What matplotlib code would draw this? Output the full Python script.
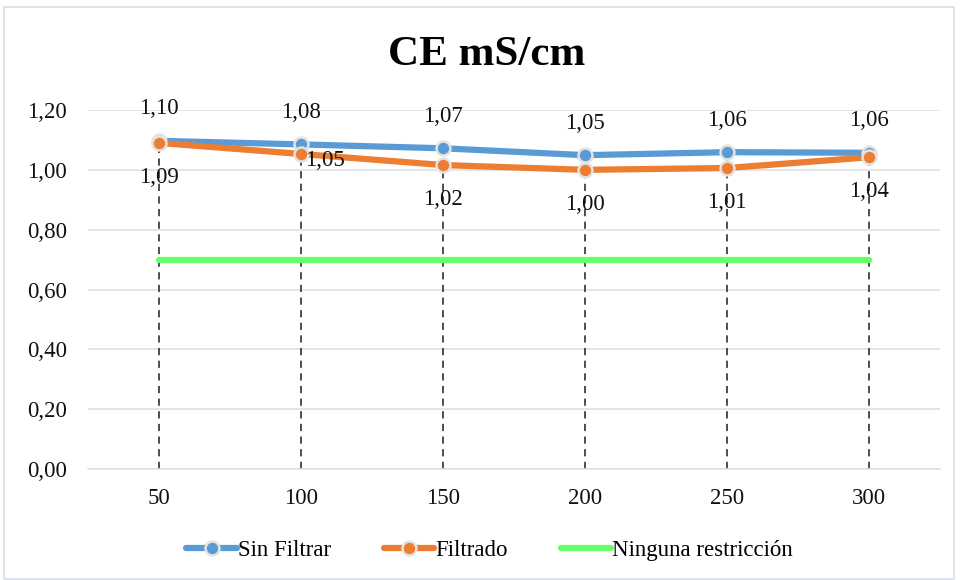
import matplotlib
matplotlib.use("Agg")
import matplotlib.pyplot as plt
from matplotlib.patches import Rectangle

categories = ["50", "100", "150", "200", "250", "300"]
sin_filtrar = [1.097, 1.085, 1.072, 1.049, 1.059, 1.057]
filtrado = [1.090, 1.053, 1.016, 1.000, 1.006, 1.042]
ninguna = [0.70, 0.70, 0.70, 0.70, 0.70, 0.70]
yticks = [0.0, 0.2, 0.4, 0.6, 0.8, 1.0, 1.2]

plt.rcParams['font.family'] = ['Liberation Serif', 'DejaVu Serif']

FS = 16.5
fig = plt.figure(figsize=(9.6, 5.8), dpi=100)
fig.patches.append(Rectangle((4/960, 0.002), 950/960, 1 - 7/580 - 0.002, transform=fig.transFigure,
                             fill=False, edgecolor='#D9DDE6', linewidth=1.2))
ax = fig.add_axes([88/960, 1 - 469/580, (940-88)/960, (469-110)/580])

x = list(range(len(categories)))
blue = '#5B9BD5'
orange = '#ED7D31'
green = '#66FF66'

# drop lines
for xi, a, b in zip(x, sin_filtrar, filtrado):
    ax.plot([xi, xi], [0, max(a, b)], linestyle=(0, (4, 3)), color='#404040', linewidth=1.3, zorder=2)

lg, = ax.plot(x, ninguna, color=green, linewidth=4.5, solid_capstyle='round', zorder=3, label='Ninguna restricción')
l1, = ax.plot(x, sin_filtrar, color=blue, linewidth=4.5, marker='o', markersize=10,
              markerfacecolor=blue, markeredgecolor='#E3E3E3', markeredgewidth=1.8,
              solid_capstyle='round', zorder=4, label='Sin Filtrar')
l2, = ax.plot(x, filtrado, color=orange, linewidth=4.5, marker='o', markersize=10,
              markerfacecolor=orange, markeredgecolor='#E3E3E3', markeredgewidth=1.8,
              solid_capstyle='round', zorder=5, label='Filtrado')

def fmt(v):
    return f"{v:.2f}".replace('.', ',')

for xi, v in zip(x, sin_filtrar):
    ax.annotate(fmt(v), (xi, v), xytext=(0, 23), textcoords='offset points',
                ha='center', va='center', fontsize=FS, color='#111111', zorder=6)
for xi, v in zip(x, filtrado):
    if xi == 1:
        ax.annotate(fmt(v), (xi, v), xytext=(3, -5), textcoords='offset points',
                    ha='left', va='center', fontsize=FS, color='#111111', zorder=6)
    else:
        ax.annotate(fmt(v), (xi, v), xytext=(0, -25), textcoords='offset points',
                    ha='center', va='center', fontsize=FS, color='#111111', zorder=6)

ax.set_xlim(-0.5, len(categories) - 0.5)
ax.set_ylim(0, 1.2)
ax.set_xticks(x)
ax.set_xticklabels(categories)
ax.set_yticks(yticks)
ax.set_yticklabels([fmt(t) for t in yticks])
ax.tick_params(axis='both', length=0, labelsize=FS, colors='#111111')
ax.tick_params(axis='x', pad=14)
ax.tick_params(axis='y', pad=15)
ax.grid(axis='y', color='#DDE1E8', linewidth=1.2)
ax.set_axisbelow(True)
for s in ['top', 'right', 'left']:
    ax.spines[s].set_visible(False)
ax.spines['bottom'].set_color('#DDE1E8')
ax.spines['bottom'].set_linewidth(1.2)

fig.text(487/960, 1 - 55/580, 'CE mS/cm', ha='center', va='center', fontsize=31, fontweight='bold')

fig.legend([l1, l2, lg], ['Sin Filtrar', 'Filtrado', 'Ninguna restricción'], loc='center',
           bbox_to_anchor=(0.51, 1 - 550/580), ncol=3, frameon=False, fontsize=FS,
           handlelength=2.2, handletextpad=0.05, columnspacing=2.3)

fig.savefig('out.png', dpi=100)
